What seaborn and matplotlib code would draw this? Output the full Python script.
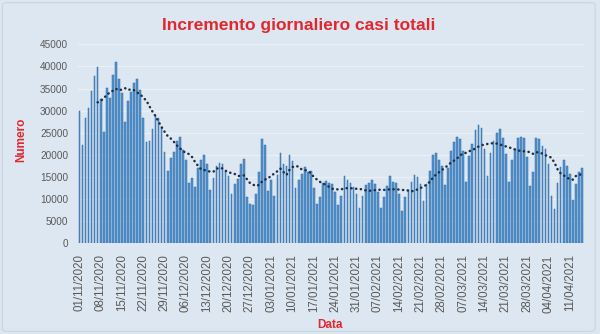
import matplotlib
matplotlib.use("Agg")
import matplotlib.pyplot as plt
from matplotlib.patches import FancyBboxPatch
import numpy as np
import pandas as pd
import seaborn as sns

# Daily increase of total cases, 01/11/2020 - 15/04/2021
nov = [29907, 22253, 28244, 30550, 34505, 37809, 39811, 32616, 25271, 35098,
       32961, 37978, 40902, 37255, 33979, 27354, 32191, 34283, 36176, 37242,
       34767, 28337, 22930, 23232, 25853, 29003, 28352, 26323, 20648, 16377]
dec = [19350, 20709, 23225, 24099, 21052, 18887, 13720, 14842, 12756, 16999,
       18727, 19903, 17938, 12030, 14844, 17572, 18236, 17992, 16308, 15104,
       11210, 13318, 14522, 18040, 19037, 10407, 8913, 8585, 11212, 16202, 23477]
jan = [22211, 11831, 14245, 10800, 15378, 20331, 18020, 17533, 19978, 18627,
       12545, 14242, 15774, 17246, 16146, 16310, 12415, 8825, 10497, 13571,
       14078, 13633, 13331, 11629, 8561, 10593, 15204, 14372, 13574, 12715, 11252]
feb = [7925, 10630, 13189, 13659, 14218, 13442, 11641, 7970, 10404, 12956,
       15146, 13908, 13532, 11068, 7351, 10386, 12074, 13762, 15479, 15074,
       13452, 9630, 13314, 16424, 19886, 20499, 18916, 17455]
mar = [13114, 17083, 20884, 22865, 24036, 23641, 20765, 13902, 19749, 22409,
       25673, 26824, 26062, 21315, 15267, 20396, 23059, 24935, 25735, 23832,
       20159, 13846, 18765, 21267, 23696, 24076, 23839, 19611, 12916, 16017, 23904]
apr = [23649, 21932, 21261, 18025, 10680, 7767, 13708, 17221, 18938, 17567,
       15746, 9789, 13447, 16168, 16974]

casi = nov + dec + jan + feb + mar + apr
date = pd.date_range("2020-11-01", periods=len(casi), freq="D").strftime("%d/%m/%Y")

tick_labels = ["01/11/2020", "08/11/2020", "15/11/2020", "22/11/2020", "29/11/2020",
               "06/12/2020", "13/12/2020", "20/12/2020", "27/12/2020", "03/01/2021",
               "10/01/2021", "17/01/2021", "24/01/2021", "31/01/2021", "07/02/2021",
               "14/02/2021", "21/02/2021", "28/02/2021", "07/03/2021", "14/03/2021",
               "21/03/2021", "28/03/2021", "04/04/2021", "11/04/2021"]
y_ticks = [0, 5000, 10000, 15000, 20000, 25000, 30000, 35000, 40000, 45000]

df = pd.DataFrame({"Data": date, "Numero": casi})
df["pos"] = np.arange(len(df))
# 7-day moving average trend line
df["media_mobile"] = df["Numero"].rolling(7).mean()

sns.set_theme(style="white")
plt.rcParams["font.family"] = ["Liberation Sans", "DejaVu Sans"]

BG = "#DDE7F1"
RED = "#E0282E"

fig = plt.figure(figsize=(6.0, 3.34), dpi=100, facecolor=BG)
fig.patches.append(FancyBboxPatch((0.004, 0.008), 0.988, 0.984,
                                  boxstyle="round,pad=0,rounding_size=0.008",
                                  transform=fig.transFigure, facecolor=BG,
                                  edgecolor="#C8D4E0", linewidth=0.8, zorder=-5))
ax = fig.add_axes([0.1297, 0.2716, 0.8428, 0.5958])
ax.set_facecolor(BG)

sns.barplot(data=df, x="Data", y="Numero", color="#5593CF", width=0.55,
            edgecolor="#2F6BA6", linewidth=0.35, saturation=1, ax=ax, zorder=2)
sns.lineplot(data=df, x="pos", y="media_mobile", color="#1C2F48", linewidth=1.8,
             ax=ax, zorder=3, dashes=False)
line = ax.lines[-1]
line.set_linestyle((0, (0.1, 1.8)))
line.set_dash_capstyle("round")

ax.set_ylim(0, 45000)
ax.set_xlim(-0.5, len(df) - 0.5)
ax.set_yticks(y_ticks)
ax.set_yticklabels([str(v) for v in y_ticks])
tick_pos = [list(date).index(t) for t in tick_labels]
ax.set_xticks(tick_pos)
ax.set_xticklabels(tick_labels, rotation=90)
ax.tick_params(axis="y", labelsize=7.2, colors="#595959", length=0, pad=7)
ax.tick_params(axis="x", labelsize=8.3, colors="#595959", length=0, pad=8)
ax.yaxis.grid(True, color="#EAF0F6", linewidth=0.9, zorder=0)
ax.set_axisbelow(True)
for s in ax.spines.values():
    s.set_visible(False)
ax.set_xlabel("")
ax.set_ylabel("")

fig.text(0.498, 0.925, "Incremento giornaliero casi totali", color=RED,
         fontsize=12.5, fontweight="bold", ha="center", va="center")
fig.text(0.035, 0.58, "Numero", color=RED, fontsize=8.5, fontweight="bold",
         rotation=90, ha="center", va="center")
fig.text(0.55, 0.027, "Data", color=RED, fontsize=8.5, fontweight="bold",
         ha="center", va="center")

fig.savefig("out.png", dpi=100, facecolor=BG)
